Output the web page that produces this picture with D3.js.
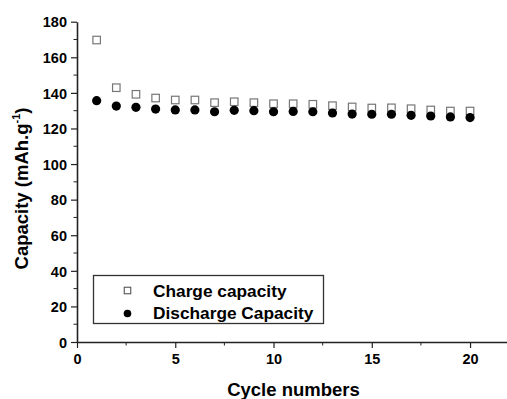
<!DOCTYPE html>
<html><head><meta charset="utf-8">
<script src="https://cdn.jsdelivr.net/npm/d3@7"></script>
<style>body{margin:0;background:#fff}svg{display:block}text{font-family:"Liberation Sans",Arial,sans-serif;font-weight:bold}</style>
</head><body><svg id="c" width="507" height="399"></svg>
<script>
const cycles = [1,2,3,4,5,6,7,8,9,10,11,12,13,14,15,16,17,18,19,20];
const chargeCapacity = [169.7,142.9,139.2,137.1,136.0,136.0,134.5,135.0,134.5,133.9,133.9,133.6,132.8,132.1,131.5,131.6,131.1,130.4,129.8,129.8];
const dischargeCapacity = [135.6,132.6,131.9,130.9,130.4,130.4,129.4,130.2,130.0,129.4,129.6,129.4,128.7,128.1,128.0,128.0,127.4,127.0,126.5,126.1];
const xTicks = [0,5,10,15,20];
const yTicks = [0,20,40,60,80,100,120,140,160,180];
const seriesNames = ["Charge capacity","Discharge Capacity"];

const svg = d3.select("#c");
const L = 77, R = 507, T = 21.7, B = 342;
const x = d3.scaleLinear().domain([0,21.88]).range([L,R]);
const y = d3.scaleLinear().domain([0,180]).range([B,T]);
const axisColor = "#222";

// minor ticks
const xMinor = d3.range(0,22,2.5).filter(v=>!xTicks.includes(v));
const yMinor = d3.range(10,180,20);
const g = svg.append("g");
g.selectAll(".xm").data(xMinor).join("line")
  .attr("x1",d=>x(d)).attr("x2",d=>x(d)).attr("y1",B).attr("y2",B+3.5)
  .attr("stroke",axisColor).attr("stroke-width",1);
g.selectAll(".ym").data(yMinor).join("line")
  .attr("y1",d=>y(d)).attr("y2",d=>y(d)).attr("x1",L).attr("x2",L-3.5)
  .attr("stroke",axisColor).attr("stroke-width",1);

const xAxis = svg.append("g").attr("transform",`translate(0,${B})`)
  .call(d3.axisBottom(x).tickValues(xTicks).tickSize(6).tickPadding(6).tickSizeOuter(0));
const yAxis = svg.append("g").attr("transform",`translate(${L},0)`)
  .call(d3.axisLeft(y).tickValues(yTicks).tickSize(6).tickPadding(4).tickSizeOuter(0));
[xAxis,yAxis].forEach(a=>{
  a.select(".domain").attr("stroke",axisColor).attr("stroke-width",1.6);
  a.selectAll(".tick line").attr("stroke",axisColor).attr("stroke-width",1.2);
  a.selectAll(".tick text").attr("font-size",14.5).attr("font-family","Liberation Sans, Arial, sans-serif").attr("font-weight","bold").attr("fill","#000");
});
yAxis.selectAll(".tick text").attr("dy","0.36em");

// data
const sq = 7.5;
svg.append("g").selectAll("rect").data(cycles).join("rect")
  .attr("x",(d)=>x(d)-sq/2).attr("y",(d,i)=>y(chargeCapacity[i])-sq/2)
  .attr("width",sq).attr("height",sq).attr("fill","#fff").attr("stroke","#777").attr("stroke-width",1.2);
svg.append("g").selectAll("circle").data(cycles).join("circle")
  .attr("cx",d=>x(d)).attr("cy",(d,i)=>y(dischargeCapacity[i])).attr("r",4.6).attr("fill","#000");

// legend
const lg = svg.append("g");
lg.append("rect").attr("x",93.5).attr("y",275.5).attr("width",230).attr("height",48)
  .attr("fill","#fff").attr("stroke","#333").attr("stroke-width",1.3);
const lsq = 6.5;
lg.append("rect").attr("x",127.5-lsq/2).attr("y",290.5-lsq/2).attr("width",lsq).attr("height",lsq)
  .attr("fill","#fff").attr("stroke","#555").attr("stroke-width",1.1);
lg.append("circle").attr("cx",127.5).attr("cy",313.5).attr("r",3.8).attr("fill","#000");
lg.selectAll("text").data(seriesNames).join("text")
  .attr("x",153).attr("y",(d,i)=>296.7+i*22.6).attr("font-size",17.3).attr("fill","#000").text(d=>d);

// titles
svg.append("text").attr("x",293.5).attr("y",396).attr("text-anchor","middle").attr("font-size",18.5).text("Cycle numbers");
const yt = svg.append("text").attr("transform","translate(27.5,188.5) rotate(-90)").attr("text-anchor","middle").attr("font-size",18.5);
yt.append("tspan").text("Capacity (mAh.g");
yt.append("tspan").attr("font-size",11).attr("dy",-8).text("-1");
yt.append("tspan").attr("dy",8).text(")");
</script></body></html>
